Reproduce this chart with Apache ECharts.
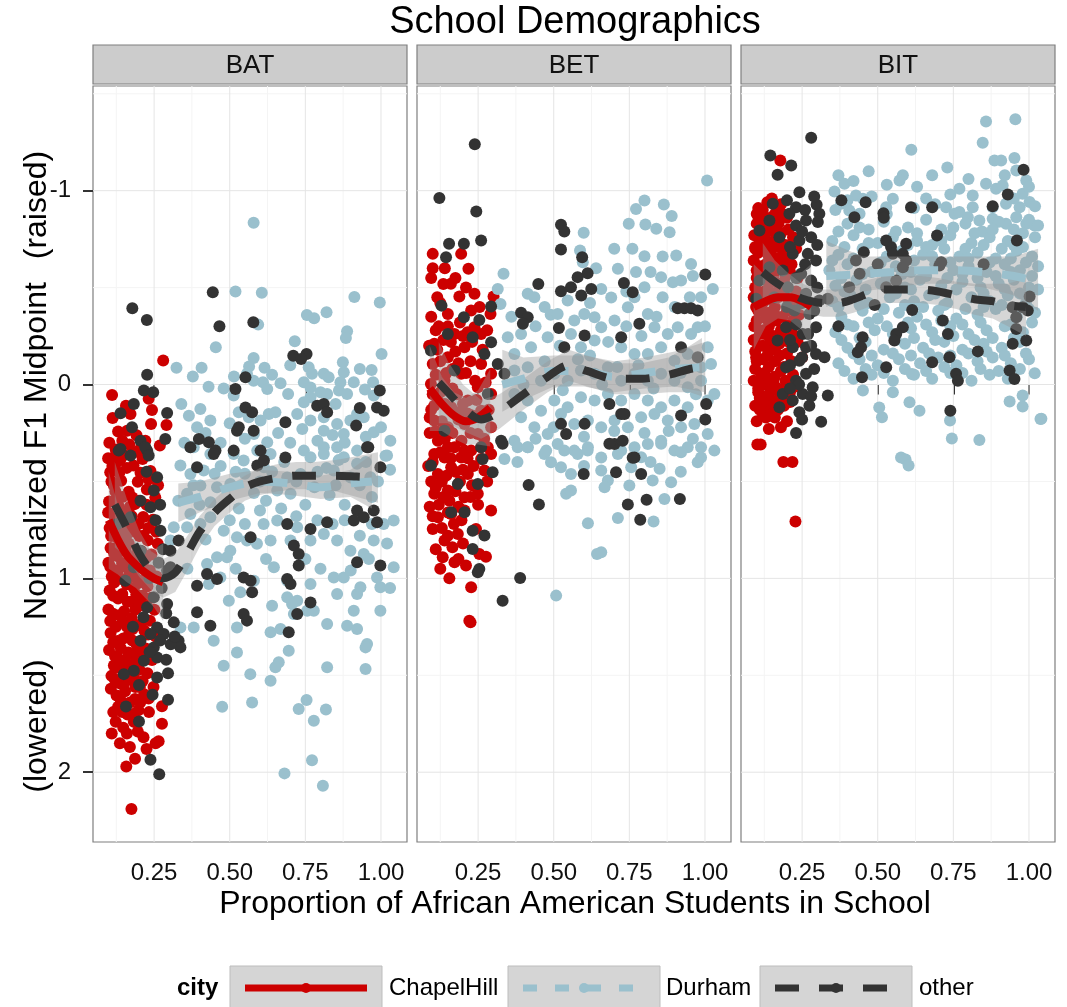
<!DOCTYPE html>
<html>
<head>
<meta charset="utf-8">
<script src="https://cdn.jsdelivr.net/npm/echarts@6/dist/echarts.min.js"></script>
<style>
html,body{margin:0;padding:0;background:#fff;}
#chart{width:1067px;height:1007px;}
</style>
</head>
<body>
<div id="chart"></div>
<script>
// ---- facets, groups, axis ticks ----
const panels = ['BAT', 'BET', 'BIT'];
const cities = ['ChapelHill', 'Durham', 'other'];
const xTicks = [0.25, 0.5, 0.75, 1.0];
const xMinor = [0.125, 0.375, 0.625, 0.875];
const yTicks = [-1, 0, 1, 2];
const yMinor = [-1.5, -0.5, 0.5, 1.5];

// ---- observations: [proportion African American, normalized F1 midpoint] ----
const batChapelHill = [
[0.280,-0.124],[0.111,0.054],[0.157,0.109],[0.232,0.074],[0.243,0.131],[0.113,0.173],[0.240,0.204],[0.291,0.209],[0.269,0.315],[0.116,0.376],
[0.172,0.152],[0.161,0.238],[0.145,0.290],[0.192,0.262],[0.131,0.242],[0.205,0.330],[0.102,0.300],
[0.105,0.452],[0.126,0.402],[0.151,0.364],[0.182,0.418],[0.212,0.384],[0.238,0.446],[0.117,0.521],[0.141,0.497],[0.166,0.553],[0.196,0.502],
[0.226,0.541],[0.254,0.583],[0.101,0.604],[0.133,0.628],[0.157,0.661],[0.186,0.617],[0.214,0.684],[0.246,0.697],[0.112,0.723],[0.143,0.762],
[0.171,0.738],[0.201,0.781],[0.229,0.804],[0.262,0.822],[0.106,0.843],[0.127,0.884],[0.156,0.858],[0.186,0.903],[0.213,0.921],[0.241,0.877],
[0.117,0.962],[0.142,1.003],[0.169,0.978],[0.198,1.024],[0.228,1.041],[0.103,1.063],[0.131,1.104],[0.162,1.121],[0.191,1.083],[0.219,1.142],
[0.251,1.162],[0.114,1.183],[0.146,1.221],[0.176,1.204],[0.206,1.243],[0.236,1.218],[0.106,1.282],[0.129,1.323],[0.161,1.302],[0.192,1.341],
[0.222,1.362],[0.121,1.402],[0.152,1.424],[0.181,1.443],[0.211,1.398],[0.243,1.421],[0.109,1.503],[0.138,1.542],[0.172,1.521],[0.203,1.561],
[0.126,1.604],[0.154,1.582],[0.187,1.622],[0.217,1.598],[0.248,1.561],[0.122,0.552],[0.178,0.583],[0.153,0.801],[0.118,1.021],[0.178,1.262],
[0.135,1.462],[0.195,0.861],[0.165,1.382],[0.108,0.782],[0.144,0.921],
[0.098,0.380],[0.123,0.335],[0.168,0.310],[0.221,0.290],[0.109,0.500],[0.135,0.455],[0.160,0.430],[0.205,0.455],[0.232,0.490],[0.263,0.520],
[0.098,0.660],[0.121,0.690],[0.147,0.710],[0.176,0.680],[0.199,0.720],[0.231,0.740],[0.257,0.760],[0.099,0.920],[0.133,0.830],[0.166,0.820],
[0.208,0.860],[0.236,0.960],[0.258,0.990],[0.110,0.990],[0.155,0.940],[0.183,1.050],[0.212,1.090],[0.241,1.100],[0.099,1.160],[0.124,1.250],
[0.151,1.170],[0.188,1.160],[0.230,1.290],[0.255,1.300],[0.101,1.370],[0.140,1.360],[0.176,1.390],[0.201,1.470],[0.228,1.490],[0.117,1.450],
[0.156,1.490],[0.188,1.560],[0.107,1.570],[0.140,1.630],[0.170,1.640],[0.198,1.680],[0.233,1.690],[0.123,1.740],[0.160,1.800],[0.196,1.790],
[0.137,1.850],[0.225,1.880],[0.187,1.930],
[0.112,0.420],[0.138,0.390],[0.185,0.350],[0.120,0.600],[0.145,0.580],[0.170,0.630],[0.200,0.600],[0.225,0.620],[0.103,0.740],[0.128,0.790],
[0.158,0.780],[0.186,0.760],[0.215,0.780],[0.118,0.870],[0.140,0.850],[0.170,0.890],[0.200,0.940],[0.225,0.890],[0.105,0.940],[0.130,0.960],
[0.160,1.030],[0.185,0.990],[0.212,1.010],[0.115,1.090],[0.145,1.080],[0.175,1.120],[0.200,1.140],[0.105,1.220],[0.135,1.190],[0.160,1.250],
[0.192,1.240],[0.218,1.270],[0.115,1.330],[0.148,1.310],[0.178,1.320],[0.205,1.360],[0.130,1.410],[0.160,1.460],[0.192,1.420],[0.120,1.520],
[0.152,1.540],[0.182,1.500],[0.212,1.530],[0.145,1.690],[0.180,1.700],[0.110,1.800],
[0.115,1.690],[0.148,1.770],[0.183,1.740],[0.204,1.640],[0.232,1.620],[0.276,1.660],[0.276,1.750],[0.255,1.850],[0.265,1.840],[0.215,1.820],
[0.170,1.870],[0.158,1.970],[0.175,2.190],[0.131,1.662],[0.162,1.702]
];
const batDurham = [
[0.579,-0.834],[0.519,-0.480],[0.606,-0.473],[0.454,-0.192],[0.324,-0.086],[0.378,-0.041],[0.407,-0.086],[0.430,0.011],[0.755,-0.359],[0.779,-0.342],
[0.820,-0.373],[0.912,-0.452],[0.996,-0.423],[0.888,-0.275],[0.884,-0.240],[0.715,-0.223],[1.002,-0.158],[0.579,-0.137],[0.564,-0.093],[0.594,-0.309],
[0.514,-0.041],[0.615,-0.086],[0.557,-0.055],[0.579,-0.020],[0.610,-0.012],[0.624,0.023],[0.668,-0.007],[0.693,0.049],[0.761,-0.089],[0.772,-0.055],
[0.811,-0.055],[0.827,-0.037],[0.745,-0.012],[0.767,0.015],[0.800,0.040],[0.822,0.049],[0.767,0.066],[0.745,0.092],[0.874,-0.115],[0.877,-0.063],
[0.866,-0.012],[0.861,0.031],[0.888,0.049],[0.910,-0.012],[0.969,-0.075],[0.974,-0.012],[0.947,0.026],[0.976,0.057],[0.365,0.161],[0.403,0.126],
[0.436,0.186],[0.392,0.221],[0.370,0.324],[0.513,0.057],[0.530,0.143],[0.563,0.169],[0.602,0.186],[0.629,0.152],[0.651,0.143],[0.580,0.255],
[0.624,0.298],[0.723,0.152],[0.767,0.186],[0.811,0.169],[0.811,0.238],[0.855,0.204],[0.877,0.255],[0.899,0.186],[0.921,0.152],[0.943,0.169],
[0.976,0.246],[1.031,0.290],[1.015,0.367],[0.855,0.324],[0.811,0.324],[0.745,0.341],[0.921,0.341],
[0.337,0.418],[0.381,0.323],[0.436,0.358],[0.414,0.444],[0.370,0.461],[0.359,0.564],[0.403,0.521],[0.458,0.530],[0.436,0.607],[0.502,0.513],
[0.513,0.358],[0.546,0.392],[0.591,0.341],[0.635,0.358],[0.613,0.427],[0.657,0.547],[0.701,0.564],[0.734,0.461],[0.767,0.375],[0.811,0.358],
[0.844,0.444],[0.877,0.375],[0.921,0.409],[0.965,0.478],[1.020,0.366],[0.315,0.736],[0.304,0.805],[0.359,0.736],[0.370,0.668],[0.403,0.719],
[0.436,0.685],[0.480,0.754],[0.524,0.788],[0.502,0.857],[0.458,0.891],[0.425,0.926],[0.491,0.891],[0.557,0.805],[0.590,0.822],[0.612,0.719],
[0.635,0.805],[0.657,0.702],[0.701,0.805],[0.723,0.736],[0.767,0.805],[0.811,0.771],[0.855,0.805],[0.899,0.857],[0.943,0.874],[0.976,0.805],
[1.009,0.719],[1.042,0.702],[0.431,1.029],[0.469,0.995],[0.497,1.115],[0.535,1.072],[0.580,1.012],[0.646,0.943],[0.690,1.012],[0.723,1.115],
[0.767,1.029],[0.844,0.995],[0.877,0.995],[0.855,1.081],[0.921,1.081],[0.932,1.046],[0.998,1.046],[0.987,0.995],[1.042,0.943],[0.640,1.141],
[0.690,1.098],[0.706,1.132],[0.712,1.184],[0.756,1.167],[0.778,1.167],[0.822,1.235],[0.888,1.244],[0.910,1.167],[0.921,1.261],[0.998,1.167],
[0.337,1.253],[0.381,1.253],[0.447,1.322],[0.524,1.253],[0.635,1.278],[0.668,1.261],[0.695,1.373],[0.662,1.433],[0.651,1.459],[0.635,1.528],
[0.524,1.382],[0.480,1.451],[0.568,1.494],[0.822,1.459],[0.954,1.339],[0.949,1.356],[0.949,1.468],[0.475,1.662],[0.574,1.640],[0.728,1.674],
[0.754,1.628],[0.778,1.735],[0.818,1.676],[0.772,1.938],[0.681,2.006],[0.808,2.070],
[0.470,0.420],[0.550,0.460],[0.680,0.400],[0.720,0.500],[0.790,0.450],[0.850,0.520],[0.900,0.480],[0.950,0.400],[0.620,0.600],[0.750,0.620],
[0.880,0.620],[0.530,0.640],[0.400,0.620],[0.970,0.580],[0.600,0.500],[0.830,0.570],
[0.350,0.300],[0.420,0.250],[0.470,0.300],[0.500,0.200],[0.550,0.280],[0.660,0.250],[0.700,0.300],[0.740,0.230],[0.790,0.290],[0.840,0.260],
[0.880,0.300],[0.950,0.270],[1.000,0.220],[0.380,0.520],[0.450,0.460],[0.520,0.450],[0.580,0.560],[0.640,0.450],[0.690,0.480],[0.780,0.530],
[0.820,0.430],[0.860,0.390],[0.930,0.520],[0.990,0.500],[1.030,0.440],[0.330,0.600],[0.420,0.800],[0.500,0.700],[0.550,0.720],[0.600,0.650],
[0.670,0.640],[0.720,0.680],[0.790,0.700],[0.840,0.720],[0.880,0.700],[0.930,0.780],[0.970,0.720],[1.020,0.820],[0.360,0.950],[0.520,0.950],
[0.620,0.900],[0.750,0.900],[0.800,0.950],[0.900,0.960],[0.960,0.900],[1.030,1.050],[0.340,0.100],[0.480,0.020],[0.640,-0.050],[0.700,-0.100],
[0.850,0.100],[0.930,-0.080]
];
const batOther = [
[0.444,-0.476],[0.178,-0.394],[0.226,-0.333],[0.466,-0.301],[0.578,-0.321],[0.710,-0.149],[0.754,-0.158],[0.736,-0.132],[0.227,-0.050],[0.216,0.031],
[0.247,0.040],[0.293,0.147],[0.183,0.100],[0.139,0.148],[0.177,0.221],[0.205,0.290],[0.227,0.341],[0.287,0.281],[0.139,0.332],[0.519,0.023],
[0.552,-0.037],[0.552,0.118],[0.574,0.143],[0.524,0.238],[0.530,0.221],[0.684,0.195],[0.789,0.109],[0.811,0.100],[0.822,0.143],[0.996,0.031],
[0.987,0.118],[1.009,0.135],[0.930,0.121],[0.918,0.212],[0.958,0.324],[0.398,0.281],[0.431,0.298],[0.453,0.341],[0.513,0.341],[0.579,0.238],
[0.602,0.341],[0.684,0.376],
[0.954,0.323],[0.998,0.427],[0.976,0.650],[0.987,0.711],[0.921,0.650],[0.943,0.685],[0.910,0.702],[0.822,0.711],[0.690,0.719],[0.767,0.745],
[0.712,0.831],[0.728,0.874],[0.728,0.934],[0.690,1.003],[0.701,1.029],[0.591,0.418],[0.613,0.392],[0.569,0.788],[0.546,0.995],[0.569,1.012],
[0.574,1.072],[0.546,1.184],[0.557,1.218],[0.767,1.124],[0.723,1.184],[0.695,1.278],[0.921,0.917],[0.998,0.934],[0.392,1.038],[0.458,1.003],
[0.425,0.977],[0.392,1.175],[0.436,1.244],[0.331,0.805],[0.304,0.857],[0.331,1.322],[0.315,1.227],[0.337,1.356],[0.304,0.943],[0.293,1.132],
[0.447,0.358],[0.370,0.323],[0.392,0.427],
[0.133,0.341],[0.172,0.366],[0.221,0.323],[0.232,0.366],[0.260,0.478],[0.249,0.547],[0.205,0.599],[0.172,0.685],[0.238,0.633],[0.271,0.754],
[0.205,0.857],[0.183,0.943],[0.155,1.012],[0.128,0.719],[0.293,0.960],[0.249,1.098],[0.227,1.149],[0.260,1.253],[0.238,1.287],[0.205,1.322],
[0.249,1.356],[0.282,1.287],[0.260,1.408],[0.216,1.425],[0.183,1.476],[0.150,1.494],[0.260,1.511],[0.296,1.489],[0.296,1.626],[0.200,1.738],
[0.157,1.661],[0.238,1.936],[0.267,2.010],
[0.225,0.450],[0.270,0.620],[0.255,0.700],[0.280,0.850],[0.265,0.920],[0.235,1.000],[0.275,1.050],[0.290,1.180],[0.215,1.200],[0.270,1.320],
[0.235,1.380],[0.290,1.420],[0.200,1.550],[0.245,1.600],[0.180,1.250],[0.305,1.340],[0.318,1.300]
];

const betChapelHill = [
[0.100,-0.674],[0.194,-0.674],[0.218,-0.597],[0.135,-0.519],[0.188,-0.454],[0.238,-0.468],[0.301,-0.454],[0.291,-0.364],[0.150,-0.364],[0.227,-0.382],
[0.105,-0.210],[0.172,-0.261],[0.238,-0.296],[0.260,-0.261],[0.100,-0.106],[0.150,-0.141],[0.205,-0.192],[0.260,-0.106],[0.293,-0.055],[0.094,-0.003],
[0.139,-0.020],[0.194,-0.055],[0.249,0.014],[0.293,0.049],[0.117,0.083],[0.161,0.117],[0.216,0.083],[0.260,0.135],[0.105,0.186],[0.150,0.221],
[0.205,0.204],[0.249,0.255],[0.293,0.221],[0.117,0.290],[0.172,0.324],[0.227,0.341],[0.282,0.324],[0.139,0.376],[0.194,0.376],[0.260,0.384],
[0.105,0.358],[0.150,0.323],[0.205,0.341],[0.260,0.323],[0.293,0.358],[0.117,0.461],[0.161,0.427],[0.216,0.461],[0.271,0.444],[0.105,0.564],
[0.150,0.547],[0.205,0.582],[0.249,0.564],[0.293,0.650],[0.117,0.685],[0.161,0.668],[0.205,0.650],[0.100,0.745],[0.139,0.805],[0.183,0.771],
[0.133,0.891],[0.172,0.917],[0.210,0.934],[0.243,0.745],[0.254,0.874],[0.276,0.888],[0.227,1.046],[0.225,1.227],[0.221,1.218],
[0.120,-0.300],[0.160,-0.220],[0.110,-0.050],[0.180,0.050],[0.230,0.160],[0.140,0.280],[0.200,0.440],[0.120,0.620],[0.170,0.720],[0.090,0.250],
[0.240,-0.020],[0.130,0.500],[0.125,-0.420],[0.265,-0.180],[0.185,-0.110],[0.095,0.130],[0.230,0.520],[0.085,0.420],
[0.095,-0.550],[0.115,-0.450],[0.160,-0.520],[0.210,-0.500],[0.255,-0.400],[0.095,-0.350],[0.135,-0.230],[0.190,-0.320],[0.215,-0.270],[0.280,-0.280],
[0.088,-0.200],[0.125,-0.120],[0.165,-0.080],[0.225,-0.120],[0.275,-0.010],[0.100,0.050],[0.140,0.100],[0.200,0.100],[0.245,0.080],[0.285,0.130],
[0.090,0.170],[0.130,0.190],[0.185,0.180],[0.225,0.250],[0.270,0.280],[0.100,0.400],[0.160,0.380],[0.235,0.420],[0.280,0.500],[0.095,0.500],
[0.145,0.470],[0.190,0.500],[0.250,0.620],[0.090,0.630],[0.155,0.600],[0.195,0.700],[0.130,0.740],[0.110,0.850],[0.165,0.840],[0.200,0.820],
[0.150,0.660],
[0.100,-0.600],[0.140,-0.600],[0.175,-0.550],[0.110,-0.280],[0.150,-0.300],[0.200,-0.250],[0.115,-0.180],[0.145,-0.060],[0.175,-0.170],[0.210,-0.060],
[0.230,-0.220],[0.105,0.110],[0.125,0.040],[0.165,0.020],[0.190,0.140],[0.215,0.150],[0.110,0.240],[0.165,0.250],[0.195,0.290],[0.125,0.350],
[0.175,0.450],[0.215,0.380],[0.110,0.530],[0.175,0.550],[0.225,0.580],[0.135,0.580],[0.100,0.680],[0.185,0.630],[0.150,0.780],[0.125,0.950],
[0.185,0.900],[0.155,1.000]
];
const betDurham = [
[1.007,-1.053],[0.772,-0.906],[0.800,-0.949],[0.864,-0.929],[0.890,-0.869],[0.748,-0.829],[0.803,-0.826],[0.839,-0.803],[0.883,-0.786],[0.599,-0.783],
[0.587,-0.691],[0.596,-0.631],[0.334,-0.571],[0.315,-0.493],[0.324,-0.416],[0.800,-0.662],[0.905,-0.666],[0.954,-0.622],[0.712,-0.597],[0.772,-0.580],
[0.855,-0.554],[0.894,-0.528],[0.921,-0.537],[1.026,-0.493],[0.987,-0.450],[0.657,-0.493],[0.635,-0.347],[0.690,-0.449],[0.620,-0.420],[0.414,-0.468],
[0.436,-0.450],[0.470,-0.400],[0.490,-0.360],
[0.348,-0.244],[0.392,-0.261],[0.425,-0.192],[0.370,-0.158],[0.480,-0.244],[0.513,-0.364],[0.546,-0.433],[0.568,-0.330],[0.601,-0.364],[0.557,-0.261],
[0.590,-0.192],[0.635,-0.227],[0.657,-0.296],[0.701,-0.330],[0.745,-0.399],[0.767,-0.450],[0.800,-0.502],[0.811,-0.364],[0.833,-0.296],[0.877,-0.261],
[0.910,-0.296],[0.954,-0.261],[0.976,-0.296],[1.009,-0.192],[0.723,-0.192],[0.767,-0.158],[0.811,-0.158],[0.855,-0.192],[0.899,-0.123],[0.943,-0.158],
[0.987,-0.089],[1.020,-0.106],[0.370,-0.072],[0.414,-0.089],[0.458,-0.020],[0.502,-0.055],[0.546,-0.020],[0.590,-0.072],[0.635,-0.055],[0.679,-0.089],
[0.723,-0.020],[0.767,-0.055],[0.811,-0.020],[0.855,-0.055],[0.899,-0.020],[0.943,0.014],[0.987,-0.020],[1.031,0.049],[0.370,0.049],[0.414,0.083],
[0.458,0.135],[0.502,0.083],[0.546,0.117],[0.590,0.066],[0.635,0.083],[0.679,0.049],[0.723,0.083],[0.767,0.049],[0.811,0.083],[0.855,0.117],
[0.899,0.083],[0.943,0.117],[1.009,0.083],[0.392,0.169],[0.436,0.221],[0.480,0.255],[0.524,0.152],[0.568,0.204],[0.613,0.186],[0.657,0.221],
[0.701,0.186],[0.745,0.221],[0.789,0.169],[0.833,0.152],[0.877,0.186],[0.921,0.221],[0.965,0.204],[1.009,0.255],[0.370,0.290],[0.414,0.324],
[0.469,0.358],[0.513,0.307],[0.568,0.341],[0.613,0.324],[0.657,0.376],[0.723,0.341],[0.767,0.324],[0.811,0.307],[0.855,0.290],[0.899,0.341],
[0.943,0.324],[0.987,0.376],[1.031,0.341],
[0.337,0.384],[0.381,0.323],[0.414,0.323],[0.475,0.341],[0.491,0.401],[0.524,0.427],[0.557,0.461],[0.541,0.564],[0.557,0.547],[0.535,0.341],
[0.579,0.358],[0.612,0.341],[0.657,0.444],[0.679,0.495],[0.668,0.530],[0.712,0.358],[0.756,0.427],[0.789,0.375],[0.750,0.521],[0.712,0.688],
[0.613,0.716],[0.643,0.874],[0.657,0.865],[0.508,1.089],[0.827,0.495],[0.850,0.435],[0.888,0.504],[0.866,0.590],[0.830,0.707],[0.921,0.349],
[0.976,0.401],[0.987,0.323],[0.855,0.306],
[0.360,-0.350],[0.440,-0.300],[0.520,-0.200],[0.620,-0.150],[0.680,-0.220],[0.740,-0.300],[0.790,-0.250],[0.840,-0.350],[0.900,-0.400],[0.950,-0.450],
[1.000,-0.300],[0.400,0.000],[0.470,-0.120],[0.530,0.030],[0.580,-0.130],[0.660,0.000],[0.710,-0.090],[0.780,-0.100],[0.830,0.020],[0.920,-0.060],
[0.970,0.050],[0.440,0.280],[0.500,0.220],[0.600,0.270],[0.700,0.240],[0.800,0.250],[0.880,0.240],[0.960,0.280],[0.380,0.400],[0.600,0.420],
[0.820,0.400],[0.920,0.450],[0.640,-0.600],[0.700,-0.700],[0.760,-0.700],[0.820,-0.580],[0.860,-0.660],[0.960,-0.560],[0.740,-0.480],[0.860,-0.450]
];
const betOther = [
[0.239,-1.239],[0.122,-0.962],[0.244,-0.893],[0.154,-0.726],[0.203,-0.726],[0.144,-0.657],[0.260,-0.743],[0.524,-0.824],[0.535,-0.789],[0.524,-0.697],
[0.594,-0.657],[0.612,-0.574],[0.579,-0.554],[0.624,-0.493],[0.591,-0.459],[0.557,-0.502],[0.524,-0.481],[0.449,-0.519],[0.732,-0.524],[0.761,-0.476],
[1.001,-0.567],[0.910,-0.394],[0.932,-0.394],[0.954,-0.394],[0.976,-0.382],[0.129,-0.407],[0.203,-0.347],[0.254,-0.333],[0.293,-0.402],[0.150,-0.261],
[0.232,-0.244],[0.293,-0.218],[0.094,-0.175],[0.271,-0.158],[0.392,-0.370],[0.414,-0.347],[0.398,-0.313],[0.517,-0.292],[0.602,-0.253],[0.535,-0.192],
[0.723,-0.244],[0.783,-0.313],[0.921,-0.192],[0.976,-0.141],[1.004,0.100],[1.001,0.181],[0.921,0.160],[0.723,0.152],[0.684,0.100],[0.734,0.152],
[0.602,0.203],[0.541,0.255],[0.524,0.203],[0.701,0.307],[0.767,0.376],[0.728,0.290],[0.337,-0.055],[0.315,-0.106],[0.172,-0.072],[0.282,0.049],
[0.139,0.238],[0.326,0.290],[0.260,0.324],
[0.094,0.418],[0.232,0.754],[0.271,0.779],[0.232,0.848],[0.254,0.952],[0.249,0.969],[0.183,0.513],[0.249,0.513],[0.265,0.384],[0.298,0.452],
[0.331,0.306],[0.205,0.659],[0.161,0.659],[0.417,0.518],[0.451,0.619],[0.389,0.998],[0.331,1.115],[0.599,0.461],[0.684,0.306],[0.706,0.452],
[0.761,0.378],[0.789,0.461],[0.745,0.619],[0.786,0.697],[0.807,0.594],[0.917,0.590]
];

const bitChapelHill = [
[0.150,-0.960],[0.180,-0.930],[0.120,-0.900],[0.160,-0.880],[0.200,-0.860],[0.100,-0.830],[0.140,-0.800],[0.180,-0.780],[0.220,-0.760],[0.110,-0.730],
[0.150,-0.700],[0.190,-0.680],[0.090,-0.640],[0.130,-0.620],[0.170,-0.600],[0.210,-0.580],[0.100,-0.550],[0.140,-0.520],[0.180,-0.500],[0.230,-0.480],
[0.090,-0.450],[0.120,-0.420],[0.160,-0.400],[0.200,-0.380],[0.240,-0.360],[0.100,-0.330],[0.140,-0.300],[0.180,-0.280],[0.220,-0.260],[0.090,-0.230],
[0.120,-0.200],[0.160,-0.180],[0.200,-0.160],[0.250,-0.140],[0.100,-0.120],[0.140,-0.090],[0.180,-0.070],[0.220,-0.050],[0.090,-0.020],[0.130,0.000],
[0.170,0.020],[0.210,0.040],[0.110,0.070],[0.150,0.090],[0.190,0.110],[0.120,0.150],[0.160,0.170],[0.200,0.190],[0.140,0.230],[0.180,0.220],
[0.115,-0.870],[0.135,-0.740],[0.095,-0.700],[0.165,-0.650],[0.115,-0.580],[0.155,-0.470],[0.105,-0.380],[0.125,-0.260],[0.165,-0.330],[0.095,-0.170],
[0.135,-0.150],[0.115,-0.050],[0.155,-0.010],[0.095,0.110],[0.130,0.120],[0.205,-0.220],[0.225,-0.420],[0.195,-0.560],[0.145,-0.620],[0.105,0.020],
[0.105,-0.910],[0.135,-0.940],[0.165,-0.920],[0.128,-0.840],[0.172,-0.830],[0.205,-0.800],[0.092,-0.770],[0.125,-0.770],[0.160,-0.740],[0.195,-0.720],
[0.230,-0.700],[0.105,-0.680],[0.140,-0.660],[0.180,-0.640],[0.215,-0.620],[0.120,-0.570],[0.155,-0.560],[0.190,-0.530],[0.235,-0.550],[0.095,-0.500],
[0.125,-0.480],[0.170,-0.450],[0.205,-0.440],[0.245,-0.420],[0.110,-0.400],[0.140,-0.370],[0.185,-0.350],[0.220,-0.330],[0.092,-0.300],[0.120,-0.280],
[0.155,-0.250],[0.195,-0.240],[0.235,-0.220],[0.105,-0.200],[0.140,-0.180],[0.175,-0.150],[0.215,-0.120],[0.095,-0.080],[0.125,-0.060],[0.160,-0.040],
[0.195,-0.020],[0.235,0.010],[0.105,0.040],[0.140,0.050],[0.175,0.070],[0.210,0.090],[0.130,0.170],[0.100,0.190],[0.170,0.130],[0.150,0.030],
[0.100,-0.880],[0.145,-0.860],[0.185,-0.880],[0.115,-0.800],[0.155,-0.790],[0.095,-0.710],[0.120,-0.700],[0.170,-0.710],[0.205,-0.660],[0.110,-0.610],
[0.150,-0.610],[0.195,-0.600],[0.100,-0.590],[0.135,-0.550],[0.170,-0.520],[0.110,-0.470],[0.140,-0.440],[0.190,-0.460],[0.098,-0.400],[0.130,-0.340],
[0.160,-0.360],[0.200,-0.300],[0.110,-0.260],[0.145,-0.230],[0.175,-0.210],[0.098,-0.140],[0.120,-0.130],[0.160,-0.120],[0.190,-0.090],[0.110,0.000],
[0.140,-0.030],[0.185,0.030],[0.120,0.090],[0.160,0.110],[0.145,0.160],[0.110,0.130],
[0.178,-1.156],[0.102,0.310],[0.113,0.310],[0.188,0.400],[0.218,0.400],[0.228,0.707]
];
const bitDurham = [
[0.858,-1.357],[0.955,-1.368],[0.847,-1.247],[0.611,-1.211],[0.886,-1.156],[0.908,-1.156],[0.952,-1.168],[0.958,-1.104],[0.583,-1.079],[0.572,-1.053],
[0.991,-1.053],[0.357,-0.996],[0.390,-1.036],[0.428,-0.975],[0.451,-0.958],[0.379,-0.932],[0.406,-0.898],[0.440,-0.881],[0.770,-1.010],[0.814,-0.975],
[0.858,-1.036],[0.891,-1.010],[0.913,-1.027],[0.979,-0.984],[1.002,-0.941],[0.924,-0.932],[0.880,-0.915],[0.814,-0.915],[0.969,-0.915],[0.550,-0.958],
[0.528,-0.915],[0.726,-0.915],[0.754,-0.881],[0.798,-0.863],[0.836,-0.846],[0.880,-0.855],[0.924,-0.829],[0.958,-0.863],[0.991,-0.829],[1.018,-0.820],
[0.360,-0.900],[0.530,-0.880],[0.620,-0.910],[0.690,-0.930],[0.770,-0.890],[1.020,-0.920],
[0.420,-1.050],[0.470,-1.100],[0.630,-1.020],[0.680,-1.080],[0.730,-1.120],[0.800,-1.060],[0.920,-1.080],[1.000,-1.020],[0.370,-1.080],[0.530,-1.030],
[0.400,-0.830],[0.470,-0.800],[0.520,-0.840],[0.600,-0.810],[0.660,-0.850],[0.710,-0.800],[0.790,-0.830],[0.845,-0.790],[0.900,-0.840],[0.950,-0.800],[1.000,-0.850],
[0.350,-0.740],[0.420,-0.770],[0.500,-0.730],[0.550,-0.760],[0.630,-0.740],[0.680,-0.720],[0.740,-0.770],[0.810,-0.730],[0.870,-0.760],[0.930,-0.740],[0.980,-0.710],[1.020,-0.760],
[0.370,-0.670],[0.450,-0.700],[0.530,-0.660],[0.580,-0.690],[0.650,-0.670],[0.720,-0.700],[0.770,-0.660],[0.830,-0.680],[0.890,-0.650],[0.960,-0.690],[1.010,-0.660],
[0.340,-0.590],[0.400,-0.620],[0.480,-0.580],[0.560,-0.610],[0.610,-0.580],[0.690,-0.620],[0.750,-0.590],[0.800,-0.610],[0.860,-0.580],[0.920,-0.620],[0.970,-0.590],[1.030,-0.610],
[0.360,-0.510],[0.430,-0.540],[0.510,-0.520],[0.590,-0.500],[0.640,-0.540],[0.710,-0.510],[0.780,-0.530],[0.840,-0.500],[0.900,-0.520],[0.950,-0.540],[1.000,-0.500],
[0.350,-0.430],[0.410,-0.460],[0.470,-0.420],[0.540,-0.450],[0.620,-0.430],[0.670,-0.460],[0.730,-0.420],[0.810,-0.450],[0.870,-0.430],[0.930,-0.460],[0.990,-0.420],
[0.380,-0.350],[0.450,-0.380],[0.500,-0.340],[0.570,-0.370],[0.630,-0.350],[0.700,-0.380],[0.760,-0.340],[0.830,-0.360],[0.890,-0.390],[0.960,-0.350],[1.020,-0.370],
[0.360,-0.270],[0.420,-0.300],[0.490,-0.280],[0.550,-0.260],[0.610,-0.290],[0.680,-0.270],[0.740,-0.300],[0.800,-0.260],[0.860,-0.280],[0.920,-0.300],[0.980,-0.270],
[0.400,-0.190],[0.460,-0.220],[0.520,-0.180],[0.590,-0.210],[0.650,-0.190],[0.720,-0.220],[0.780,-0.180],[0.850,-0.210],[0.910,-0.190],[0.970,-0.220],
[0.370,-0.110],[0.440,-0.130],[0.500,-0.100],[0.570,-0.130],[0.640,-0.110],[0.700,-0.140],[0.760,-0.100],[0.830,-0.120],[0.880,-0.140],[0.940,-0.110],[1.000,-0.130],
[0.420,-0.030],[0.480,-0.050],[0.550,-0.020],[0.620,-0.050],[0.680,-0.030],[0.740,-0.060],[0.810,-0.020],[0.870,-0.050],[0.930,-0.030],
[0.400,-0.950],[0.480,-0.970],[0.660,-0.960],[0.740,-0.980],[0.950,-0.960],
[0.370,-0.790],[0.440,-0.810],[0.560,-0.790],[0.630,-0.780],[0.750,-0.810],[0.820,-0.780],[0.880,-0.800],[0.980,-0.780],[1.030,-0.820],
[0.390,-0.710],[0.470,-0.730],[0.600,-0.720],[0.660,-0.710],[0.710,-0.740],[0.790,-0.700],[0.850,-0.720],[0.910,-0.700],[0.950,-0.720],
[0.350,-0.640],[0.420,-0.650],[0.510,-0.630],[0.620,-0.640],[0.680,-0.660],[0.740,-0.630],[0.800,-0.650],[0.870,-0.630],[0.940,-0.650],[0.990,-0.630],
[0.380,-0.550],[0.450,-0.570],[0.530,-0.550],[0.580,-0.570],[0.660,-0.560],[0.730,-0.550],[0.780,-0.570],[0.830,-0.550],[0.890,-0.560],[0.940,-0.580],[1.010,-0.560],
[0.390,-0.480],[0.460,-0.490],[0.560,-0.470],[0.610,-0.490],[0.690,-0.470],[0.760,-0.490],[0.850,-0.470],[0.920,-0.490],[0.970,-0.470],[1.030,-0.490],
[0.370,-0.400],[0.440,-0.410],[0.520,-0.390],[0.590,-0.410],[0.650,-0.400],[0.720,-0.410],[0.790,-0.390],[0.850,-0.400],[0.910,-0.410],[1.000,-0.390],
[0.400,-0.310],[0.470,-0.320],[0.530,-0.300],[0.600,-0.320],[0.660,-0.310],[0.710,-0.330],[0.780,-0.310],[0.840,-0.320],[0.940,-0.310],[1.010,-0.320],
[0.380,-0.230],[0.440,-0.240],[0.560,-0.230],[0.620,-0.240],[0.690,-0.230],[0.750,-0.250],[0.820,-0.230],[0.880,-0.240],[0.950,-0.240],
[0.420,-0.160],[0.480,-0.150],[0.550,-0.160],[0.610,-0.150],[0.670,-0.160],[0.740,-0.150],[0.800,-0.160],[0.860,-0.170],[0.920,-0.150],[0.990,-0.160],
[0.390,-0.070],[0.460,-0.080],[0.520,-0.060],[0.590,-0.080],[0.660,-0.070],[0.720,-0.090],[0.780,-0.060],[0.840,-0.080],[0.900,-0.070],[0.970,-0.080],
[0.613,-0.054],[0.550,0.040],[0.605,0.092],[0.638,0.135],[0.514,0.169],[0.451,0.031],[0.739,0.186],[0.836,0.286],[0.936,0.088],[0.979,0.114],
[1.038,0.178],[1.019,-0.058],[0.577,0.376],[0.592,0.387],[0.602,0.418],[0.745,0.279],[1.041,0.176],[0.979,0.057],[0.505,0.119]
];
const bitOther = [
[0.280,-1.273],[0.145,-1.182],[0.214,-1.130],[0.169,-1.082],[0.982,-1.108],[0.241,-0.992],[0.298,-0.927],[0.307,-0.881],[0.302,-0.838],[0.230,-0.915],
[0.423,-0.863],[0.610,-0.915],[0.680,-0.915],[0.519,-0.884],[0.696,-0.769],[0.960,-0.743],[0.454,-0.683],[0.544,-0.709],[0.583,-0.674],[0.594,-0.640],
[0.710,-0.631],[0.704,-0.614],[0.561,-0.536],[0.528,-0.502],[0.440,-0.571],[0.406,-0.502],[1.002,-0.454],[0.980,-0.399],[0.996,-0.382],[0.958,-0.347],
[0.946,-0.399],[0.614,-0.385],[0.583,-0.296],[0.561,-0.261],[0.555,-0.227],[0.450,-0.244],[0.445,-0.192],[0.434,-0.166],[0.448,-0.037],[0.528,-0.089],
[0.715,-0.330],[0.732,-0.261],[0.737,-0.141],[0.680,-0.115],[0.831,-0.171],[0.759,-0.055],[0.765,-0.020],[0.740,0.135],[0.958,-0.287],[0.991,-0.227],
[0.946,-0.210],[0.936,-0.072],[0.952,-0.029],[0.528,-0.743],[0.550,-0.674],[0.594,-0.726],[0.583,-0.605],[0.428,-0.640],[0.335,-0.442],[0.324,-0.141],
[0.153,-0.932],[0.109,-0.795],[0.142,-0.846],[0.208,-0.881],[0.263,-0.846],[0.241,-0.743],[0.280,-0.760],[0.175,-0.760],[0.219,-0.674],[0.269,-0.674],
[0.296,-0.640],[0.142,-0.605],[0.186,-0.588],[0.247,-0.571],[0.280,-0.536],[0.109,-0.536],[0.203,-0.502],[0.263,-0.468],[0.307,-0.433],[0.098,-0.442],
[0.158,-0.450],[0.225,-0.382],[0.274,-0.364],[0.296,-0.296],[0.197,-0.296],[0.252,-0.261],[0.169,-0.227],[0.219,-0.192],[0.263,-0.192],[0.296,-0.158],
[0.241,-0.123],[0.197,-0.089],[0.263,-0.055],[0.230,-0.020],[0.285,0.014],[0.186,0.049],[0.252,0.049],[0.219,0.083],[0.274,0.109],[0.241,0.143],
[0.175,0.117],[0.313,0.192],[0.335,0.057],
[0.200,-0.950],[0.260,-0.900],[0.290,-0.970],[0.230,-0.820],[0.250,-0.790],[0.300,-0.720],[0.210,-0.710],[0.260,-0.620],[0.230,-0.550],[0.300,-0.500],
[0.250,-0.420],[0.200,-0.400],[0.290,-0.380],[0.230,-0.310],[0.270,-0.260],[0.210,-0.230],[0.280,-0.200],[0.250,-0.140],[0.210,-0.100],[0.290,-0.080],
[0.240,0.000],[0.280,0.060],[0.210,0.020],[0.250,0.180],[0.230,0.250],[0.380,-0.950],[0.460,-0.940],[0.520,-0.860],[0.500,-0.620],[0.370,-0.300],
[0.490,-0.410],[0.850,-0.620],[0.880,-0.920],[0.930,-0.980]
];

// ---- loess fits: [x, fit, lower 95%, upper 95%] ----
const batFitChapelHill = [[0.10,0.70,0.45,0.95],[0.13,0.80,0.62,0.98],[0.16,0.88,0.74,1.02],[0.19,0.93,0.81,1.05],[0.22,0.97,0.84,1.10],[0.25,1.00,0.85,1.15],[0.28,1.02,0.82,1.22]];
const batFitDurham = [[0.33,0.61,0.51,0.71],[0.40,0.58,0.50,0.66],[0.50,0.53,0.46,0.60],[0.60,0.50,0.44,0.56],[0.70,0.51,0.45,0.57],[0.80,0.53,0.47,0.59],[0.90,0.51,0.44,0.58],[0.97,0.50,0.36,0.64]];
const batFitOther = [[0.12,0.62,0.40,0.84],[0.16,0.74,0.59,0.89],[0.20,0.87,0.75,0.99],[0.24,0.96,0.86,1.06],[0.28,1.00,0.90,1.10],[0.32,0.97,0.87,1.07],[0.36,0.87,0.78,0.96],[0.40,0.76,0.68,0.84],[0.45,0.66,0.59,0.73],[0.50,0.59,0.52,0.66],[0.55,0.53,0.47,0.60],[0.60,0.50,0.43,0.57],[0.66,0.48,0.41,0.55],[0.72,0.47,0.40,0.54],[0.78,0.47,0.40,0.54],[0.85,0.47,0.39,0.55],[0.92,0.475,0.37,0.58],[0.99,0.48,0.35,0.61]];
const betFitChapelHill = [[0.09,0.02,-0.20,0.24],[0.13,0.10,-0.04,0.24],[0.17,0.16,0.04,0.28],[0.21,0.19,0.07,0.31],[0.25,0.17,0.03,0.31],[0.29,0.12,-0.08,0.32]];
const betFitDurham = [[0.33,0.00,-0.18,0.14],[0.40,-0.03,-0.14,0.08],[0.50,-0.07,-0.15,0.01],[0.60,-0.07,-0.15,0.01],[0.70,-0.04,-0.12,0.04],[0.80,-0.06,-0.14,0.02],[0.90,-0.08,-0.17,0.01],[1.00,-0.09,-0.22,0.04]];
const betFitOther = [[0.12,-0.01,-0.22,0.20],[0.15,0.04,-0.12,0.20],[0.20,0.12,0.00,0.24],[0.26,0.18,0.08,0.28],[0.32,0.14,0.05,0.23],[0.40,0.05,-0.03,0.13],[0.48,-0.04,-0.12,0.04],[0.55,-0.10,-0.18,-0.02],[0.61,-0.07,-0.15,0.01],[0.70,-0.03,-0.11,0.05],[0.79,-0.03,-0.11,0.05],[0.88,-0.05,-0.14,0.04],[0.95,-0.08,-0.20,0.04],[0.99,-0.09,-0.24,0.06]];
const bitFitChapelHill = [[0.09,-0.40,-0.62,-0.18],[0.13,-0.43,-0.56,-0.30],[0.17,-0.45,-0.56,-0.34],[0.21,-0.45,-0.57,-0.33],[0.25,-0.43,-0.58,-0.28],[0.28,-0.40,-0.62,-0.18]];
const bitFitDurham = [[0.33,-0.56,-0.74,-0.40],[0.45,-0.57,-0.66,-0.48],[0.55,-0.58,-0.66,-0.50],[0.65,-0.59,-0.66,-0.52],[0.75,-0.59,-0.66,-0.52],[0.85,-0.58,-0.66,-0.50],[0.95,-0.56,-0.66,-0.46],[1.03,-0.53,-0.70,-0.38]];
const bitFitOther = [[0.12,-0.58,-0.73,-0.43],[0.16,-0.53,-0.64,-0.42],[0.20,-0.49,-0.58,-0.40],[0.24,-0.45,-0.53,-0.37],[0.28,-0.43,-0.50,-0.36],[0.32,-0.42,-0.49,-0.35],[0.37,-0.42,-0.49,-0.35],[0.42,-0.44,-0.51,-0.37],[0.47,-0.47,-0.54,-0.40],[0.52,-0.49,-0.56,-0.42],[0.58,-0.49,-0.56,-0.42],[0.64,-0.49,-0.56,-0.42],[0.70,-0.48,-0.55,-0.41],[0.76,-0.46,-0.53,-0.39],[0.82,-0.44,-0.52,-0.36],[0.88,-0.43,-0.52,-0.34],[0.93,-0.41,-0.52,-0.30],[0.99,-0.40,-0.55,-0.25]];

// ---- assembling ----
const points = {
  BAT: [batChapelHill, batDurham, batOther],
  BET: [betChapelHill, betDurham, betOther],
  BIT: [bitChapelHill, bitDurham, bitOther]
};
const fits = {
  BAT: [batFitChapelHill, batFitDurham, batFitOther],
  BET: [betFitChapelHill, betFitDurham, betFitOther],
  BIT: [bitFitChapelHill, bitFitDurham, bitFitOther]
};

const FONT = '"Liberation Sans", Arial, Helvetica, sans-serif';
const COLORS = ['#cc0000', '#9ac0cd', '#333333'];
const DASH = [null, [24, 20], [24, 20]];
const LEGEND_DASH = [null, [14, 18], [24, 20]];
const X_MIN = 0.048, X_MAX = 1.086;
const Y_MIN = -1.54, Y_MAX = 2.36;
const GRID_LEFT = [93, 417, 741];
const GRID_W = 314, GRID_TOP = 86, GRID_H = 756;

const grids = [], xAxes = [], yAxes = [], series = [];

panels.forEach((p, i) => {
  grids.push({
    left: GRID_LEFT[i], top: GRID_TOP, width: GRID_W, height: GRID_H,
    show: true, backgroundColor: '#ffffff', borderColor: '#7f7f7f', borderWidth: 1.2
  });
  xAxes.push({
    type: 'value', gridIndex: i, min: X_MIN, max: X_MAX,
    axisLine: { show: false },
    splitLine: { show: false },
    axisTick: { show: true, customValues: xTicks, length: 10, lineStyle: { color: '#333', width: 2 } },
    axisLabel: {
      show: true, customValues: xTicks, margin: 19,
      formatter: v => v.toFixed(2), fontFamily: FONT, fontSize: 24, color: '#111'
    }
  });
  yAxes.push({
    type: 'value', gridIndex: i, min: Y_MIN, max: Y_MAX, inverse: true,
    axisLine: { show: false },
    splitLine: { show: false },
    axisTick: { show: i === 0, customValues: yTicks, length: 10, lineStyle: { color: '#333', width: 2 } },
    axisLabel: {
      show: i === 0, customValues: yTicks, margin: 22,
      formatter: v => String(v), fontFamily: FONT, fontSize: 24, color: '#111'
    }
  });

  // background grid lines (minor, then major)
  const gridRows = [];
  xMinor.forEach(v => gridRows.push([0, v, 0]));
  yMinor.forEach(v => gridRows.push([1, v, 0]));
  xTicks.forEach(v => gridRows.push([0, v, 1]));
  yTicks.forEach(v => gridRows.push([1, v, 1]));
  series.push({
    type: 'custom', xAxisIndex: i, yAxisIndex: i, z: 1, silent: true, clip: true,
    data: gridRows,
    encode: { x: -1, y: -1 },
    renderItem: (params, api) => {
      const dir = api.value(0), v = api.value(1), major = api.value(2);
      const a = dir === 0 ? api.coord([v, Y_MIN]) : api.coord([X_MIN, v]);
      const b = dir === 0 ? api.coord([v, Y_MAX]) : api.coord([X_MAX, v]);
      return {
        type: 'line',
        shape: { x1: a[0], y1: a[1], x2: b[0], y2: b[1] },
        style: { stroke: major ? '#e5e5e5' : '#f4f4f4', lineWidth: 1 }
      };
    }
  });

  // points
  cities.forEach((c, k) => {
    series.push({
      type: 'scatter', name: c, xAxisIndex: i, yAxisIndex: i, z: 2,
      symbol: 'circle', symbolSize: 12, silent: true,
      itemStyle: { color: COLORS[k], opacity: 1 },
      data: points[p][k]
    });
  });

  // smoothers: confidence ribbon + fitted curve, one group at a time
  cities.forEach((c, k) => {
    const rows = fits[p][k];
    series.push({
      type: 'custom', xAxisIndex: i, yAxisIndex: i, z: 3, silent: true, clip: true,
      data: [[rows[0][0], rows[0][1]]],
      renderItem: (params, api) => {
        const upper = rows.map(r => api.coord([r[0], r[3]]));
        const lower = rows.slice().reverse().map(r => api.coord([r[0], r[2]]));
        return {
          type: 'polygon',
          shape: { points: upper.concat(lower) },
          style: { fill: 'rgba(153,153,153,0.4)' }
        };
      }
    });
    series.push({
      type: 'line', name: c, xAxisIndex: i, yAxisIndex: i, z: 3, silent: true,
      smooth: 0.3, showSymbol: false, symbol: 'none',
      lineStyle: { color: COLORS[k], width: 8, type: DASH[k] || 'solid', cap: 'butt' },
      data: rows.map(r => [r[0], r[1]])
    });
  });
});

// ---- strips, titles, legend ----
const graphic = [];
panels.forEach((p, i) => {
  graphic.push({
    type: 'rect', silent: true,
    shape: { x: GRID_LEFT[i], y: 45, width: GRID_W, height: 39 },
    style: { fill: '#cccccc', stroke: '#7f7f7f', lineWidth: 1.2 }
  });
  graphic.push({
    type: 'text', silent: true,
    x: GRID_LEFT[i] + GRID_W / 2, y: 66,
    style: { text: p, fontFamily: FONT, fontSize: 26, fill: '#111', textAlign: 'center', textVerticalAlign: 'middle' }
  });
});
graphic.push({
  type: 'text', silent: true, x: 575, y: 23,
  style: { text: 'School Demographics', fontFamily: FONT, fontSize: 38, fill: '#000', textAlign: 'center', textVerticalAlign: 'middle' }
});
graphic.push({
  type: 'text', silent: true, x: 575, y: 904,
  style: { text: 'Proportion of African American Students in School', fontFamily: FONT, fontSize: 32, fill: '#000', textAlign: 'center', textVerticalAlign: 'middle' }
});
[['(raised)', 205], ['Normalized F1 Midpoint', 451], ['(lowered)', 726]].forEach(([t, cy]) => {
  graphic.push({
    type: 'text', silent: true, x: 37, y: cy, rotation: Math.PI / 2,
    style: { text: t, fontFamily: FONT, fontSize: 32, fill: '#000', textAlign: 'center', textVerticalAlign: 'middle' }
  });
});

// legend
const LEG_Y = 988;
graphic.push({
  type: 'text', silent: true, x: 177, y: LEG_Y,
  style: { text: 'city', fontFamily: FONT, fontSize: 24, fontWeight: 'bold', fill: '#000', textAlign: 'left', textVerticalAlign: 'middle' }
});
const legendKeys = [
  { box: 230, label: 389 },
  { box: 508, label: 666 },
  { box: 760, label: 919 }
];
legendKeys.forEach((lk, k) => {
  graphic.push({
    type: 'rect', silent: true,
    shape: { x: lk.box, y: 966, width: 152, height: 50 },
    style: { fill: '#d5d5d5', stroke: '#bdbdbd', lineWidth: 1 }
  });
  graphic.push({
    type: 'line', silent: true,
    shape: { x1: lk.box + 15, y1: LEG_Y, x2: lk.box + 137, y2: LEG_Y },
    style: { stroke: COLORS[k], lineWidth: 7, lineDash: LEGEND_DASH[k] || null, lineCap: 'butt' }
  });
  graphic.push({
    type: 'circle', silent: true,
    shape: { cx: lk.box + 76, cy: LEG_Y, r: 5 },
    style: { fill: COLORS[k] }
  });
  graphic.push({
    type: 'text', silent: true, x: lk.label, y: LEG_Y,
    style: { text: cities[k], fontFamily: FONT, fontSize: 24, fill: '#000', textAlign: 'left', textVerticalAlign: 'middle' }
  });
});

const chart = echarts.init(document.getElementById('chart'), null, { renderer: 'canvas' });
chart.setOption({
  animation: false,
  backgroundColor: '#ffffff',
  grid: grids,
  xAxis: xAxes,
  yAxis: yAxes,
  series: series,
  graphic: graphic
});
</script>
</body>
</html>
